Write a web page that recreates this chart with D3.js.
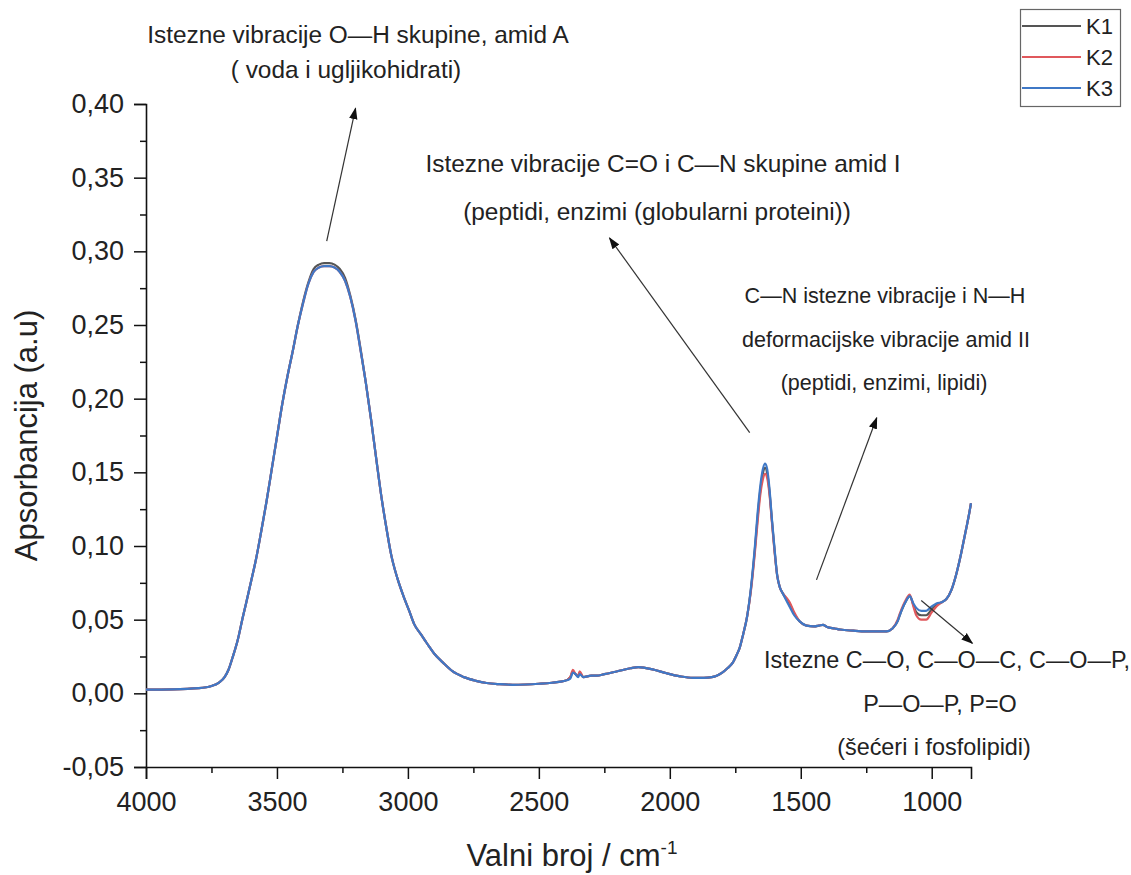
<!DOCTYPE html>
<html>
<head>
<meta charset="utf-8">
<script src="https://cdn.jsdelivr.net/npm/d3@7"></script>
<style>
  html, body { margin: 0; padding: 0; background: #fff; }
  svg { display: block; font-family: "Liberation Sans", Arial, sans-serif; }
</style>
</head>
<body>
<svg id="chart" width="1131" height="875"></svg>
<script>
// ---------- DATA ----------
const wavenumbers = [4000,3900,3800,3750,3720,3700,3685,3670,3650,3630,3618,3600,3580,3560,3540,3520,3500,3480,3460,3440,3420,3400,3380,3360,3340,3320,3300,3280,3260,3240,3220,3200,3180,3160,3140,3120,3100,3080,3065,3040,3017,2995,2976,2950,2935,2920,2900,2867,2830,2786,2740,2700,2650,2600,2550,2500,2450,2400,2380,2370,2360,2350,2344,2330,2300,2279,2250,2200,2150,2120,2100,2060,2012,1960,1912,1870,1840,1821,1800,1780,1759,1745,1733,1720,1705,1690,1675,1665,1655,1645,1636,1628,1620,1610,1600,1590,1580,1569,1555,1543,1525,1505,1478,1450,1430,1415,1400,1370,1350,1300,1249,1200,1173,1150,1130,1120,1100,1084,1070,1059,1040,1021,1000,982,960,944,925,906,890,875,868,858,850];

const K1 = [0.0025,0.0027,0.0035,0.005,0.0075,0.011,0.016,0.024,0.036,0.052,0.061,0.075,0.091,0.110,0.130,0.152,0.174,0.196,0.215,0.232,0.250,0.266,0.279,0.288,0.291,0.292,0.292,0.291,0.288,0.282,0.270,0.254,0.233,0.210,0.185,0.158,0.132,0.110,0.095,0.078,0.066,0.056,0.047,0.040,0.036,0.032,0.027,0.021,0.015,0.011,0.0085,0.007,0.0062,0.0058,0.006,0.0065,0.0072,0.0085,0.011,0.015,0.013,0.012,0.014,0.011,0.012,0.012,0.013,0.015,0.017,0.0178,0.0175,0.016,0.0136,0.0115,0.0105,0.0105,0.011,0.012,0.014,0.017,0.021,0.026,0.031,0.040,0.052,0.071,0.098,0.119,0.137,0.149,0.153,0.149,0.138,0.117,0.097,0.080,0.072,0.068,0.064,0.061,0.054,0.049,0.046,0.0455,0.046,0.0465,0.045,0.044,0.0433,0.0425,0.042,0.042,0.042,0.044,0.049,0.054,0.062,0.066,0.060,0.055,0.053,0.053,0.057,0.060,0.062,0.064,0.070,0.081,0.093,0.106,0.112,0.121,0.129];

const K2 = [0.0025,0.0027,0.0035,0.005,0.0075,0.011,0.016,0.024,0.036,0.052,0.061,0.075,0.091,0.110,0.130,0.152,0.174,0.196,0.215,0.232,0.250,0.265,0.278,0.286,0.289,0.290,0.290,0.289,0.286,0.280,0.269,0.253,0.232,0.210,0.185,0.158,0.132,0.110,0.095,0.078,0.066,0.056,0.047,0.040,0.036,0.032,0.027,0.021,0.015,0.011,0.0085,0.007,0.0062,0.0058,0.006,0.0065,0.0072,0.0085,0.011,0.016,0.013,0.012,0.015,0.011,0.012,0.012,0.013,0.015,0.017,0.0178,0.0175,0.016,0.0136,0.0115,0.0105,0.0105,0.011,0.012,0.014,0.017,0.021,0.026,0.031,0.040,0.052,0.070,0.096,0.116,0.134,0.145,0.149,0.146,0.136,0.116,0.096,0.080,0.072,0.068,0.065,0.062,0.055,0.049,0.046,0.0455,0.046,0.0465,0.045,0.044,0.0433,0.0425,0.042,0.042,0.042,0.044,0.050,0.055,0.063,0.067,0.059,0.053,0.050,0.050,0.055,0.059,0.062,0.064,0.070,0.081,0.093,0.106,0.112,0.121,0.129];

const K3 = [0.0025,0.0027,0.0035,0.005,0.0075,0.011,0.016,0.024,0.036,0.052,0.061,0.075,0.091,0.110,0.130,0.152,0.174,0.196,0.215,0.232,0.250,0.265,0.278,0.286,0.289,0.290,0.290,0.289,0.286,0.280,0.269,0.253,0.232,0.210,0.185,0.158,0.132,0.110,0.095,0.078,0.066,0.056,0.047,0.040,0.036,0.032,0.027,0.021,0.015,0.011,0.0085,0.007,0.0062,0.0058,0.006,0.0065,0.0072,0.0085,0.010,0.014,0.013,0.011,0.013,0.011,0.012,0.012,0.013,0.015,0.017,0.0178,0.0175,0.016,0.0136,0.0115,0.0105,0.0105,0.011,0.012,0.014,0.017,0.021,0.026,0.031,0.040,0.052,0.072,0.100,0.122,0.140,0.152,0.156,0.152,0.140,0.118,0.098,0.080,0.072,0.068,0.063,0.059,0.053,0.049,0.046,0.0455,0.046,0.0465,0.045,0.044,0.0433,0.0425,0.042,0.042,0.042,0.044,0.049,0.054,0.062,0.066,0.061,0.058,0.056,0.056,0.059,0.061,0.062,0.064,0.070,0.081,0.093,0.106,0.112,0.121,0.129];

const seriesNames = ["K1", "K2", "K3"];
const xTicksMajor = [4000, 3500, 3000, 2500, 2000, 1500, 1000];
const yTicksMajor = [-0.05, 0.00, 0.05, 0.10, 0.15, 0.20, 0.25, 0.30, 0.35, 0.40];

const annotations = [
  { lines: ["Istezne vibracije O\u2014H skupine, amid A", "( voda i ugljikohidrati)"], size: 24.4, cx: [358, 346], by: [43, 78], arrow: [3310, 0.307, 3200, 0.397] },
  { lines: ["Istezne vibracije C=O i C\u2014N skupine amid I", "(peptidi, enzimi (globularni proteini))"], size: 24.4, cx: [663, 657], by: [172, 220], arrow: [1695, 0.177, 2230, 0.309] },
  { lines: ["C\u2014N istezne vibracije i N\u2014H", "deformacijske vibracije amid II", "(peptidi, enzimi, lipidi)"], size: 21.5, cx: [885, 886, 884], by: [303, 347, 390], arrow: [1440, 0.077, 1210, 0.187] },
  { lines: ["Istezne C\u2014O, C\u2014O\u2014C, C\u2014O\u2014P,", "P\u2014O\u2014P, P=O", "(še\u0107eri i fosfolipidi)"], size: 23.4, cx: [947, 940, 934], by: [668, 712, 755], arrow: [1040, 0.063, 845, 0.034] }
];

// ---------- LAYOUT ----------
const svg = d3.select("#chart");
const mLeft = 146, mRight = 971, mTop = 104, mBottom = 767;
const x = d3.scaleLinear().domain([4000, 850]).range([mLeft, mRight]);
const y = d3.scaleLinear().domain([-0.05, 0.40]).range([mBottom, mTop]);
const colors = { K1: "#555555", K2: "#e0585c", K3: "#3f78c6" };
const fmtY = v => d3.format(".2f")(v).replace(".", ",").replace("\u2212", "-");

svg.append("defs").append("marker")
  .attr("id", "arrowhead").attr("viewBox", "0 0 10 10")
  .attr("refX", 9).attr("refY", 5)
  .attr("markerWidth", 12).attr("markerHeight", 12)
  .attr("markerUnits", "userSpaceOnUse")
  .attr("orient", "auto")
  .append("path").attr("d", "M0,1.5 L10,5 L0,8.5 Z").attr("fill", "#111");

// ---------- AXES ----------
const minorX = [3750, 3250, 2750, 2250, 1750, 1250];
const minorY = [-0.025, 0.025, 0.075, 0.125, 0.175, 0.225, 0.275, 0.325, 0.375];

const gx = svg.append("g").attr("transform", `translate(0,${mBottom})`);
gx.call(d3.axisBottom(x).tickValues(xTicksMajor).tickSize(12).tickPadding(13).tickFormat(d3.format("d")));
const gxm = svg.append("g").attr("transform", `translate(0,${mBottom})`);
gxm.call(d3.axisBottom(x).tickValues(minorX).tickSize(6).tickFormat(""));
gxm.select(".domain").remove();

const gy = svg.append("g").attr("transform", `translate(${mLeft},0)`);
gy.call(d3.axisLeft(y).tickValues(yTicksMajor).tickSize(12).tickPadding(10).tickFormat(fmtY));
const gym = svg.append("g").attr("transform", `translate(${mLeft},0)`);
gym.call(d3.axisLeft(y).tickValues(minorY).tickSize(6).tickFormat(""));
gym.select(".domain").remove();

svg.selectAll(".domain").attr("stroke", "#111").attr("stroke-width", 1.6);
svg.selectAll(".tick line").attr("stroke", "#111").attr("stroke-width", 1.5);
svg.selectAll(".tick text").attr("fill", "#222").attr("font-size", 27)
  .attr("font-family", "'Liberation Sans', Arial, sans-serif");

// axis titles
const xt = svg.append("text").attr("x", 572).attr("y", 866).attr("text-anchor", "middle")
  .attr("font-size", 31).attr("fill", "#222");
xt.append("tspan").text("Valni broj / cm");
xt.append("tspan").attr("font-size", 19).attr("dy", -12).text("-1");

svg.append("text").attr("transform", `translate(37,${(mTop + mBottom) / 2}) rotate(-90)`)
  .attr("text-anchor", "middle").attr("font-size", 31).attr("fill", "#222")
  .text("Apsorbancija (a.u)");

// ---------- LINES ----------
const seriesData = { K1, K2, K3 };
const line = d3.line().x(d => x(d[0])).y(d => y(d[1])).curve(d3.curveMonotoneX);
seriesNames.forEach(name => {
  const pts = wavenumbers.map((w, i) => [w, seriesData[name][i]]);
  svg.append("path").datum(pts)
    .attr("d", line).attr("fill", "none")
    .attr("stroke", colors[name]).attr("stroke-width", 2.2)
    .attr("stroke-linejoin", "round");
});

// ---------- ANNOTATIONS ----------
annotations.forEach(a => {
  a.lines.forEach((t, i) => {
    svg.append("text").attr("x", a.cx[i]).attr("y", a.by[i])
      .attr("text-anchor", "middle").attr("font-size", a.size).attr("fill", "#222").text(t);
  });
  svg.append("line")
    .attr("x1", x(a.arrow[0])).attr("y1", y(a.arrow[1]))
    .attr("x2", x(a.arrow[2])).attr("y2", y(a.arrow[3]))
    .attr("stroke", "#333").attr("stroke-width", 1.2)
    .attr("marker-end", "url(#arrowhead)");
});

// ---------- LEGEND ----------
const lg = svg.append("g");
lg.append("rect").attr("x", 1020.5).attr("y", 9.5).attr("width", 100).attr("height", 97)
  .attr("fill", "#fff").attr("stroke", "#666").attr("stroke-width", 1.2);
seriesNames.forEach((name, i) => {
  const yy = 26 + i * 31;
  lg.append("line").attr("x1", 1022).attr("x2", 1081).attr("y1", yy).attr("y2", yy)
    .attr("stroke", colors[name]).attr("stroke-width", 2.2);
  lg.append("text").attr("x", 1086).attr("y", yy).attr("dy", "0.36em")
    .attr("font-size", 22).attr("fill", "#222").text(name);
});
</script>
</body>
</html>
